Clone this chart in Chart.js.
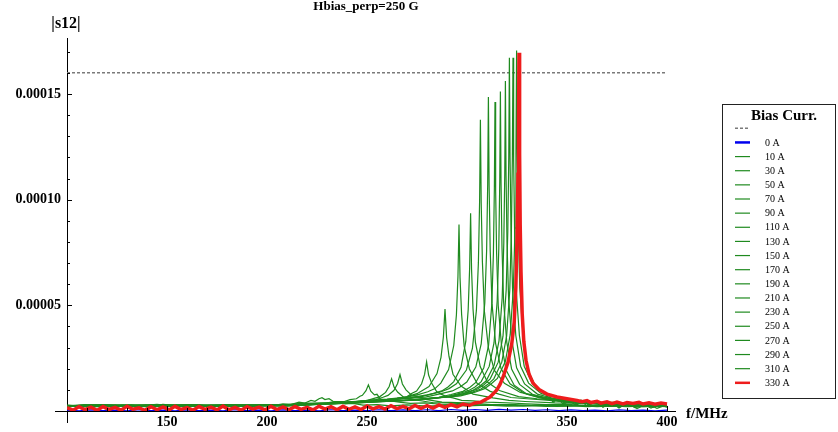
<!DOCTYPE html>
<html>
<head>
<meta charset="utf-8">
<script src="https://cdn.jsdelivr.net/npm/chart.js@4/dist/chart.umd.min.js"></script>
<style>
  html, body { margin: 0; padding: 0; background: #fff; }
  #wrap { width: 838px; height: 432px; }
</style>
</head>
<body>
<div id="wrap"><canvas id="chart" width="838" height="432"></canvas></div>
<script>
// |s12| values below are in units of 1e-6, frequencies in MHz
const UNIT = 1e-6;

const currents = ["0 A", "10 A", "30 A", "50 A", "70 A", "90 A", "110 A", "130 A", "150 A",
  "170 A", "190 A", "210 A", "230 A", "250 A", "270 A", "290 A", "310 A", "330 A"];

const xTicks = [150, 200, 250, 300, 350, 400];
const yTicks = [0.00005, 0.0001, 0.00015];

const threshold = [[100, 160], [400, 160]];

const s0 = [[100,0.4],[106,0.1],[112,0.5],[118,0.2],[124,0.4],[130,0.1],[136,0.6],[142,0.2],[148,0.4],[154,0.1],[160,0.5],[166,0.2],[172,0.4],[178,0.1],[184,0.6],[190,0.2],[196,0.4],[202,0.1],[208,0.5],[214,0.2],[220,0.4],[226,0.1],[232,0.6],[238,0.2],[244,0.4],[250,0.2],[256,0.6],[262,0.2],[268,0.5],[274,0.2],[280,0.6],[286,0.2],[292,0.7],[298,0.3],[304,0.7],[310,0.3],[316,0.8],[322,0.4],[328,0.7],[334,0.3],[340,0.6],[346,0.2],[352,0.5],[358,0.2],[364,0.4],[370,0.1],[376,0.5],[382,0.2],[388,0.4],[394,0.1],[400,0.4]];

const s10 = [[100,2.6],[108,1.9],[116,3.0],[124,2.2],[132,2.8],[140,2.0],[148,3.1],[156,2.3],[164,2.7],[172,2.1],[180,3.0],[188,2.4],[196,2.9],[203,2.6],[208,3.4],[212,3.0],[216,4.2],[219,3.8],[222,5.0],[224,4.6],[226,5.8],[227.5,6.3],[229,5.4],[231,5.8],[233,4.6],[236,4.2],[239,3.4],[243,3.6],[248,2.8],[255,3.0],[262,2.4],[270,2.9],[280,2.3],[290,2.7],[300,2.4],[310,2.8],[320,2.3],[330,2.7],[340,2.2],[350,2.6],[360,2.1],[370,2.5],[380,2.0],[390,2.4],[400,2.1]];

const s30 = [[100,2.3],[109,3.0],[118,2.1],[127,2.8],[136,2.4],[145,3.1],[154,2.2],[163,2.9],[172,2.3],[181,2.7],[190,2.2],[199,2.9],[208,2.6],[215,3.3],[224,3.6],[230,3.9],[234,4.4],[238.7,4.5],[241.5,5.4],[244.7,5.8],[246.5,7.0],[247.7,7.4],[249.5,9.6],[250.7,12.4],[251.9,9.4],[253.7,7.6],[255,7.9],[256.7,5.6],[259.5,5.2],[262.7,4.6],[267,4.1],[271.7,3.6],[279,3.8],[286.7,3.2],[295,3.0],[305,2.6],[315,2.9],[325,2.4],[335,2.7],[345,2.2],[355,2.6],[365,2.1],[375,2.5],[385,2.0],[400,2.3]];

const s50 = [[100,2.5],[110,2.0],[120,2.9],[130,2.3],[140,2.7],[150,2.1],[160,3.0],[170,2.4],[180,2.8],[190,2.2],[200,2.9],[210,2.5],[218,3.0],[226.3,3.4],[234,3.6],[241.3,4.0],[246,4.6],[250.3,5.0],[253.5,6.0],[256.3,6.7],[259.3,8.8],[261.1,11.6],[262.3,15.2],[263.5,11.4],[265.3,9.0],[268.3,6.5],[271,6.0],[274.3,5.2],[283.3,3.9],[290,3.8],[298.3,3.5],[308,2.8],[318,3.0],[328,2.4],[338,2.8],[348,2.3],[358,2.7],[368,2.2],[378,2.6],[388,2.1],[400,2.4]];

const s70 = [[100,2.2],[111,2.9],[122,2.3],[133,2.8],[144,2.1],[155,2.9],[166,2.4],[177,2.8],[188,2.2],[199,2.7],[210,2.4],[220,2.9],[230.5,3.6],[238,3.8],[245.5,4.3],[250,5.0],[254.5,5.4],[258,6.5],[260.5,7.4],[263.5,9.8],[265.3,13.0],[266.5,17.2],[267.7,12.8],[269.5,10.0],[272.5,7.2],[275,7.0],[278.5,5.6],[287.5,4.2],[295,4.0],[302.5,3.7],[312,3.0],[322,3.2],[332,2.6],[342,2.9],[352,2.4],[362,2.7],[372,2.2],[382,2.6],[392,2.1],[400,2.4]];

const s90 = [[100,2.7],[112,2.1],[124,2.8],[136,2.2],[148,2.9],[160,2.3],[172,2.7],[184,2.0],[196,2.8],[208,2.3],[218,2.9],[229.8,3.5],[240,3.6],[249.8,4.1],[256,4.9],[262.3,5.1],[266,6.2],[269.8,6.6],[272.5,8.4],[274.8,9.4],[277.3,12.9],[278.8,17.3],[279.8,23.2],[280.8,17.0],[282.3,13.2],[284.8,9.2],[287,8.0],[289.8,6.8],[293,6.2],[297.3,5.0],[303,4.8],[309.8,4.2],[320,3.9],[329.8,3.4],[340,3.0],[350,3.2],[360,2.6],[370,2.9],[380,2.4],[390,2.7],[400,2.3]];

const s110 = [[100,2.4],[113,2.9],[126,2.2],[139,2.8],[152,2.3],[165,2.9],[178,2.2],[191,2.7],[204,2.4],[219,3.7],[234,3.5],[249,4.6],[257,5.0],[265,6.0],[270,6.8],[275,8.2],[281,11.6],[285,17.7],[287,25.4],[288.2,35.1],[289,48.2],[289.8,34.8],[291,25.8],[293,17.4],[297,11.8],[303,8.0],[313,6.2],[321,5.0],[329,4.5],[344,3.8],[359,3.6],[370,2.9],[380,3.2],[390,2.6],[400,2.9]];

const s130 = [[100,2.6],[114,2.1],[128,2.9],[142,2.3],[156,2.8],[170,2.2],[184,2.9],[198,2.4],[212,2.8],[226,3.2],[238,4.0],[250.5,4.9],[260,5.6],[270,6.6],[276,7.9],[280.4,9.1],[284,10.6],[286.9,13.2],[290.8,19.6],[293.4,31.1],[294.7,45.4],[295.48,63.7],[296,88.2],[296.52,63.0],[297.3,45.8],[298.6,30.6],[301.2,19.9],[305.1,13.0],[311.6,9.3],[316,8.0],[322,6.4],[330,5.8],[341.5,5.0],[352,4.0],[362,3.8],[372,3.2],[382,3.4],[392,2.8],[400,3.0]];

const s150 = [[100,2.3],[115,2.9],[130,2.2],[145,2.8],[160,2.4],[175,2.9],[190,2.2],[205,2.8],[220,2.9],[235,3.6],[248,4.3],[259.8,5.0],[270,6.0],[277.8,6.9],[283,8.2],[287.4,9.5],[290.5,11.4],[293.4,13.9],[297,20.7],[299.4,32.9],[300.6,48.0],[301.32,67.6],[301.8,93.6],[302.28,67.0],[303,48.4],[304.2,32.6],[306.6,21.0],[310.2,13.7],[316.2,9.7],[325.8,6.8],[335,5.8],[343.8,5.1],[355,4.0],[365,4.2],[375,3.4],[385,3.6],[400,3.0]];

const s170 = [[100,2.6],[116,2.1],[132,2.8],[148,2.2],[164,2.9],[180,2.3],[196,2.7],[212,2.9],[230,3.6],[246.7,4.7],[260,5.4],[271.7,6.3],[280,7.6],[286.7,9.0],[291,10.6],[294.7,12.9],[299.7,19.4],[302.7,29.6],[304.7,47.6],[305.7,70.2],[306.3,99.1],[306.7,137.8],[307.1,98.5],[307.7,70.6],[308.7,47.2],[310.7,29.9],[313.7,19.2],[318.7,13.1],[326.7,8.8],[334,7.4],[341.7,6.0],[352,4.9],[366.7,4.1],[376,3.2],[386,3.6],[400,2.9]];

const s190 = [[100,2.4],[117,2.9],[134,2.2],[151,2.8],[168,2.3],[185,2.9],[202,2.6],[220,3.4],[238,4.2],[256.7,4.9],[268,5.8],[279.2,6.6],[287,8.2],[292.7,9.5],[296.5,11.4],[299.9,13.7],[304.4,20.8],[307.1,31.7],[308.9,51.2],[309.8,75.6],[310.34,106.9],[310.7,148.6],[311.06,106.5],[311.6,76.0],[312.5,50.8],[314.3,32.0],[317,20.1],[321.5,12.9],[328.7,8.3],[336,6.6],[342.2,5.4],[353,4.6],[364.7,3.8],[374,3.0],[384,3.4],[394,2.7],[400,3.0]];

const s210 = [[100,2.7],[118,2.2],[136,2.9],[154,2.3],[172,2.8],[190,2.4],[208,3.0],[226,3.5],[246,4.2],[266,4.9],[276,5.6],[286,6.5],[292,7.8],[298,9.3],[301.5,11.2],[304.4,13.5],[308.4,20.5],[310.8,31.2],[312.4,50.4],[313.2,74.4],[313.68,105.1],[314,146.2],[314.32,104.6],[314.8,74.8],[315.6,50.0],[317.2,31.5],[319.6,19.3],[323.6,12.2],[330,7.9],[336,6.3],[342,5.2],[352,4.2],[362,3.7],[372,3.0],[382,3.4],[392,2.7],[400,3.0]];

const s230 = [[100,2.3],[119,2.8],[138,2.2],[157,2.9],[176,2.3],[195,2.8],[214,3.1],[232,3.6],[250,4.3],[268.7,5.0],[279,5.8],[288.7,6.6],[295,8.0],[300.7,9.6],[304,11.4],[307.1,13.9],[311.1,21.1],[313.5,32.2],[315.1,52.1],[315.9,76.9],[316.38,108.7],[316.7,151.2],[317.02,108.2],[317.5,77.3],[318.3,51.7],[319.9,32.5],[322.3,19.9],[326.3,12.6],[332.7,7.9],[338,6.4],[344.7,5.2],[354,4.4],[364.7,3.7],[374,3.0],[384,3.3],[394,2.6],[400,2.9]];

const s250 = [[100,2.6],[120,2.1],[140,2.8],[160,2.2],[180,2.9],[200,2.5],[218,3.2],[236,3.8],[254,4.5],[271.2,5.0],[282,6.0],[291.2,6.8],[298,8.2],[303.2,9.9],[306.5,11.8],[309.6,14.3],[313.6,21.7],[316,33.2],[317.6,53.7],[318.4,79.4],[318.88,112.2],[319.2,156.2],[319.52,111.7],[320,79.8],[320.8,53.3],[322.4,33.5],[324.8,20.4],[328.8,12.8],[335.2,8.0],[341,6.5],[347.2,5.3],[357,4.4],[367.2,3.8],[376,3.0],[386,3.3],[395,2.6],[400,2.9]];

const s270 = [[100,2.4],[121,2.9],[142,2.3],[163,2.8],[184,2.2],[205,2.9],[224,3.3],[242,3.9],[258,4.6],[273.2,5.2],[284,6.2],[293.2,7.1],[300,8.6],[305.2,10.4],[308.5,12.4],[311.6,15.2],[315.6,23.1],[318,35.4],[319.6,57.4],[320.4,84.9],[320.88,120.1],[321.2,167.2],[321.52,119.6],[322,85.3],[322.8,57.0],[324.4,35.7],[326.8,21.2],[330.8,13.2],[337.2,8.2],[343,6.9],[349.2,5.4],[353,3.8],[357,5.0],[361,3.2],[365,4.6],[369,2.6],[373,4.2],[377,2.2],[381,3.9],[385,1.9],[389,3.6],[393,1.7],[397,3.3],[400,2.2]];

const s290 = [[100,2.7],[122,2.2],[144,2.9],[166,2.3],[188,2.8],[210,2.5],[228,3.3],[246,4.0],[262,4.7],[275,5.2],[286,6.3],[295,7.1],[302,8.7],[307,10.4],[310.3,12.5],[313.4,15.2],[317.4,23.1],[319.8,35.4],[321.4,57.4],[322.2,84.9],[322.68,120.1],[323,167.2],[323.32,119.6],[323.8,85.3],[324.6,57.0],[326.2,35.7],[328.6,21.2],[332.6,13.2],[339,8.1],[342,5.0],[345,6.6],[348,3.4],[351,5.8],[354,2.8],[357,5.2],[360,2.2],[364,4.6],[368,1.8],[372,4.2],[376,1.4],[380,3.8],[385,1.2],[390,3.4],[395,1.3],[400,3.0]];

const s310 = [[100,2.5],[123,2.0],[146,2.8],[169,2.2],[192,2.9],[213,2.7],[232,3.4],[250,4.1],[265,4.8],[276.8,5.3],[288,6.4],[296.8,7.2],[304,8.9],[308.8,10.6],[312,12.8],[315.2,15.4],[319.2,23.5],[321.6,36.1],[323.2,58.5],[324,86.6],[324.48,122.5],[324.8,170.6],[325.12,122.0],[325.6,87.0],[326.4,58.1],[328,36.4],[330.4,19.3],[334.4,11.6],[337.5,9.4],[340.8,7.3],[343,4.2],[346,6.0],[349,3.6],[352,5.4],[355,3.0],[358,4.8],[361,2.6],[364,4.4],[368,2.2],[372,4.0],[376,1.8],[380,3.8],[384,1.6],[388,3.4],[392,1.4],[396,3.2],[400,1.8]];

const s330 = [[100,1.6],[103,0.4],[106,2.0],[109,0.6],[112,1.8],[115,0.3],[118,2.1],[121,0.7],[124,1.7],[127,0.4],[130,2.2],[133,0.8],[136,1.5],[139,0.3],[142,2.0],[145,0.6],[148,1.9],[151,0.5],[154,2.2],[157,0.7],[160,1.6],[163,0.4],[166,2.1],[169,0.8],[172,1.8],[175,0.5],[178,2.3],[181,0.6],[184,1.7],[187,0.4],[190,2.0],[193,0.9],[196,1.8],[199,0.5],[202,2.2],[205,0.7],[208,1.9],[211,0.6],[214,2.1],[217,0.8],[220,1.7],[223,0.5],[226,2.3],[229,0.9],[232,2.0],[235,0.6],[238,2.2],[241,0.8],[244,1.9],[247,0.7],[250,2.4],[253,1.0],[256,2.1],[259,0.9],[262,2.5],[265,1.1],[268,2.2],[271,1.0],[274,2.6],[277,1.3],[280,2.5],[283,1.4],[286,2.9],[289,1.7],[292,3.0],[295,2.0],[298,3.3],[301,2.6],[304,3.8],[307,4.2],[309.5,5.6],[311.5,6.6],[313,8.0],[314.8,9.8],[316.5,12.6],[318,16],[320.5,23],[322.4,32],[323.6,42],[324.4,58],[325,80],[325.5,112],[325.8,140],[326,169.5],[326.3,122],[326.6,88],[327,66],[327.6,46],[328.4,33],[329.5,24],[331,17.5],[333,13.2],[336,10.2],[340,8.0],[345,6.6],[350,5.8],[355,5.0],[357.5,4.4],[360,4.9],[362,4.0],[365,4.6],[367,3.7],[370,4.3],[372.5,3.5],[375,4.2],[378,3.4],[380,4.0],[383,3.6],[386,4.1],[388,3.3],[391,3.9],[394,3.2],[397,3.8],[400,3.3]];

const series = [s0, s10, s30, s50, s70, s90, s110, s130, s150, s170, s190, s210, s230, s250, s270, s290, s310, s330];

const GREEN = "#1f8a1f";
const RED = "#ee1c1c";
const BLUE = "#0000ee";
const SERIF = "'Liberation Serif', 'DejaVu Serif', serif";

function toPoints(arr) {
  return arr.map(p => ({ x: p[0], y: p[1] * UNIT }));
}

const datasets = [{
  label: "",
  data: toPoints(threshold),
  borderColor: "#7a7a7a",
  borderWidth: 1.5,
  borderDash: [3, 2],
  order: 40
}];

series.forEach((s, i) => {
  const last = i === series.length - 1;
  datasets.push({
    label: currents[i],
    data: toPoints(s),
    borderColor: i === 0 ? BLUE : last ? RED : GREEN,
    borderWidth: i === 0 ? 1.2 : last ? 3.5 : 1.2,
    order: i === 0 ? 30 : last ? 0 : 20 - i
  });
});

// texts, inward ticks and the boxed legend
const decorations = {
  id: "decorations",
  afterDraw(chart) {
    const ctx = chart.ctx;
    const xs = chart.scales.x;
    const ys = chart.scales.y;
    const left = xs.left, bottom = ys.bottom;
    ctx.save();

    // axis extensions past the origin
    ctx.strokeStyle = "#000";
    ctx.lineWidth = 1;
    ctx.beginPath();
    ctx.moveTo(left - 12, bottom + 0.5);
    ctx.lineTo(left, bottom + 0.5);
    ctx.moveTo(left + 0.5, bottom);
    ctx.lineTo(left + 0.5, bottom + 12);
    ctx.stroke();

    // inward ticks
    ctx.beginPath();
    for (let f = 110; f <= 400; f += 10) {
      const px = Math.round(xs.getPixelForValue(f)) + 0.5;
      const len = f % 50 === 0 ? 5 : 3;
      ctx.moveTo(px, bottom);
      ctx.lineTo(px, bottom - len);
    }
    for (let k = 1; k <= 17; k++) {
      const py = Math.round(ys.getPixelForValue(k * 0.00001)) + 0.5;
      const len = k % 5 === 0 ? 5 : 3;
      ctx.moveTo(left, py);
      ctx.lineTo(left + len, py);
    }
    ctx.stroke();

    // titles
    ctx.fillStyle = "#000";
    ctx.textAlign = "center";
    ctx.textBaseline = "alphabetic";
    ctx.font = "bold 13px " + SERIF;
    ctx.fillText("Hbias_perp=250 G", 366, 10);
    ctx.font = "bold 16px " + SERIF;
    ctx.fillText("|s12|", 66, 28);
    ctx.textAlign = "left";
    ctx.font = "bold 15px " + SERIF;
    ctx.fillText("f/MHz", 686, 418);

    // legend
    const lx = 722, ly = 104, lw = 113, lh = 294;
    ctx.strokeStyle = "#222";
    ctx.strokeRect(lx + 0.5, ly + 0.5, lw, lh);
    ctx.textAlign = "center";
    ctx.font = "bold 15px " + SERIF;
    ctx.fillText("Bias Curr.", lx + 62, ly + 16);
    ctx.textAlign = "left";
    ctx.textBaseline = "middle";
    ctx.font = "10px " + SERIF;
    chart.data.datasets.forEach((ds, i) => {
      const y = ly + 24.3 + i * 14.14;
      ctx.strokeStyle = ds.borderColor;
      ctx.lineWidth = ds === datasets[0] ? 1.5 : (ds.borderColor !== GREEN ? 2.5 : 1.2);
      ctx.setLineDash(ds.borderDash || []);
      ctx.beginPath();
      ctx.moveTo(lx + 13, y);
      ctx.lineTo(lx + 28, y);
      ctx.stroke();
      ctx.setLineDash([]);
      if (ds.label) ctx.fillText(ds.label, lx + 43, y + 0.5);
    });
    ctx.restore();
  }
};

new Chart(document.getElementById("chart"), {
  type: "scatter",
  data: { datasets: datasets },
  options: {
    responsive: false,
    animation: false,
    showLine: true,
    layout: { padding: { top: 38, right: 163, left: 0, bottom: 0 } },
    elements: {
      point: { radius: 0, hoverRadius: 0 },
      line: { tension: 0, fill: false }
    },
    plugins: {
      legend: { display: false },
      tooltip: { enabled: false },
      title: { display: false }
    },
    scales: {
      x: {
        type: "linear",
        min: 100,
        max: 404,
        afterFit: s => { s.height = 21; },
        afterBuildTicks: s => { s.ticks = xTicks.map(v => ({ value: v })); },
        grid: { display: true, drawOnChartArea: false, drawTicks: false, color: "rgba(0,0,0,0)" },
        border: { display: true, color: "#000", width: 1 },
        ticks: {
          autoSkip: false,
          maxRotation: 0,
          padding: 3,
          color: "#000",
          font: { family: SERIF, size: 14, weight: "bold" },
          callback: v => String(v)
        }
      },
      y: {
        type: "linear",
        min: 0,
        max: 0.0001765,
        afterFit: s => { s.width = 67; },
        afterBuildTicks: s => { s.ticks = yTicks.map(v => ({ value: v })); },
        grid: { display: true, drawOnChartArea: false, drawTicks: false, color: "rgba(0,0,0,0)" },
        border: { display: true, color: "#000", width: 1 },
        ticks: {
          autoSkip: false,
          padding: 6,
          color: "#000",
          font: { family: SERIF, size: 14, weight: "bold" },
          callback: v => v.toFixed(5)
        }
      }
    }
  },
  plugins: [decorations]
});
</script>
</body>
</html>
